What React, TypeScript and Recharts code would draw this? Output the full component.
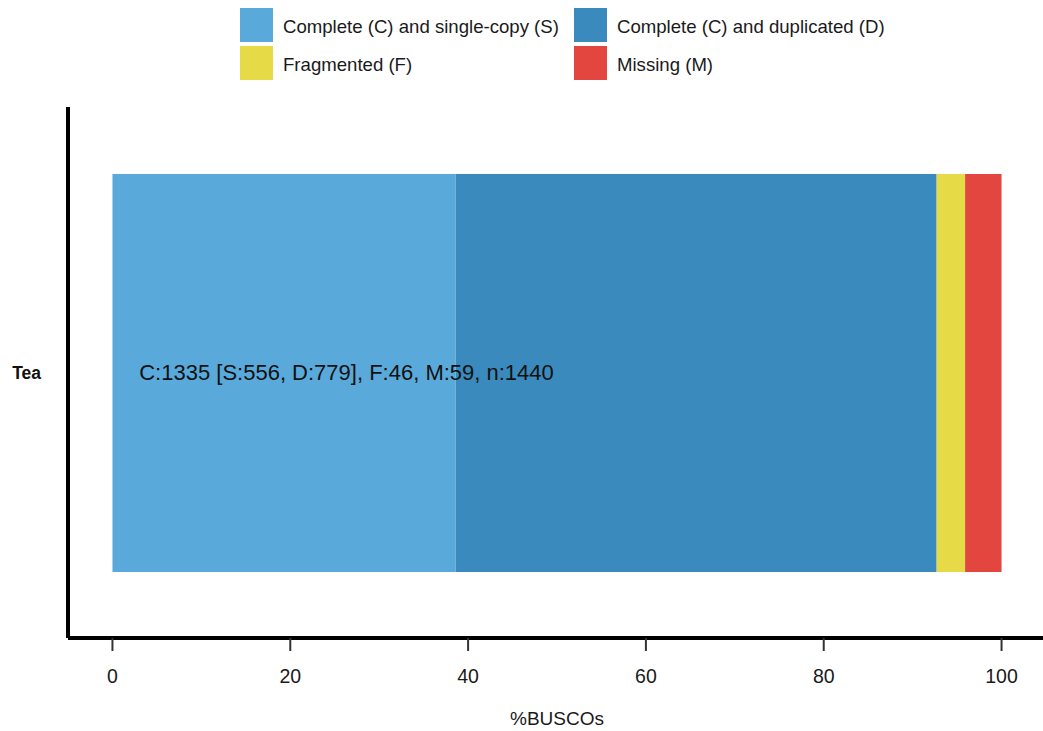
import React from "react";
import { Bar, BarChart, ReferenceDot, XAxis, YAxis } from "recharts";

const categories = ["Tea"];
const singleCopy = [38.6];
const duplicated = [54.1];
const fragmented = [3.2];
const missing = [4.1];
const xTicks = [0, 20, 40, 60, 80, 100];
const summary = "C:1335 [S:556, D:779], F:46, M:59, n:1440";

const legendItems = [
  { key: "S", label: "Complete (C) and single-copy (S)", color: "#59a9db" },
  { key: "D", label: "Complete (C) and duplicated (D)", color: "#3a8abd" },
  { key: "F", label: "Fragmented (F)", color: "#e6da47" },
  { key: "M", label: "Missing (M)", color: "#e3463f" }
];

const data = categories.map((name, i) => ({
  name,
  S: singleCopy[i],
  D: duplicated[i],
  F: fragmented[i],
  M: missing[i]
}));

const font = "'Liberation Sans', Arial, Helvetica, sans-serif";

function TeaTick({ x, y, payload }: any) {
  return (
    <text x={x} y={y} dy="0.35em" textAnchor="end" fontFamily={font} fontSize={17.5} fontWeight="bold" fill="#111">
      {payload.value}
    </text>
  );
}

export default function App() {
  return (
    <div style={{ position: "absolute", left: 0, top: 0, width: 1043, height: 731, overflow: "hidden", background: "#fff", fontFamily: font }}>
      <div
        style={{
          position: "absolute",
          left: 240,
          top: 8,
          display: "grid",
          gridTemplateColumns: "334px 334px",
          rowGap: 4
        }}
      >
        {legendItems.map((item) => (
          <div key={item.key} style={{ display: "flex", alignItems: "center", height: 34 }}>
            <div style={{ width: 33, height: 34, background: item.color }} />
            <span style={{ marginLeft: 10, marginTop: 3, fontSize: 18.6, color: "#1a1a1a" }}>{item.label}</span>
          </div>
        ))}
      </div>
      <BarChart
        width={1043}
        height={731}
        data={data}
        layout="vertical"
        margin={{ top: 107, right: -3, bottom: 0, left: 0 }}
        barSize={398}
      >
        <XAxis
          type="number"
          domain={[-5, 105]}
          allowDataOverflow
          ticks={xTicks}
          height={93}
          axisLine={{ stroke: "#000", strokeWidth: 4 }}
          tickLine={{ stroke: "#333", strokeWidth: 2 }}
          tickSize={13}
          tickMargin={18}
          tick={{ fill: "#1a1a1a", fontSize: 19.5, fontFamily: font }}
          label={{ value: "%BUSCOs", position: "insideBottom", offset: 6, fill: "#1a1a1a", fontSize: 19, fontFamily: font }}
        />
        <YAxis
          type="category"
          dataKey="name"
          width={68}
          axisLine={{ stroke: "#000", strokeWidth: 4 }}
          tickLine={false}
          tickSize={0}
          tickMargin={27}
          tick={<TeaTick />}
        />
        {legendItems.map((item) => (
          <Bar key={item.key} dataKey={item.key} stackId="busco" fill={item.color} isAnimationActive={false} />
        ))}
        <ReferenceDot
          x={3}
          y="Tea"
          r={0.1}
          fillOpacity={0}
          strokeOpacity={0}
          label={{ value: summary, position: "right", offset: 0, fill: "#111", fontSize: 22, fontFamily: font }}
        />
      </BarChart>
    </div>
  );
}
